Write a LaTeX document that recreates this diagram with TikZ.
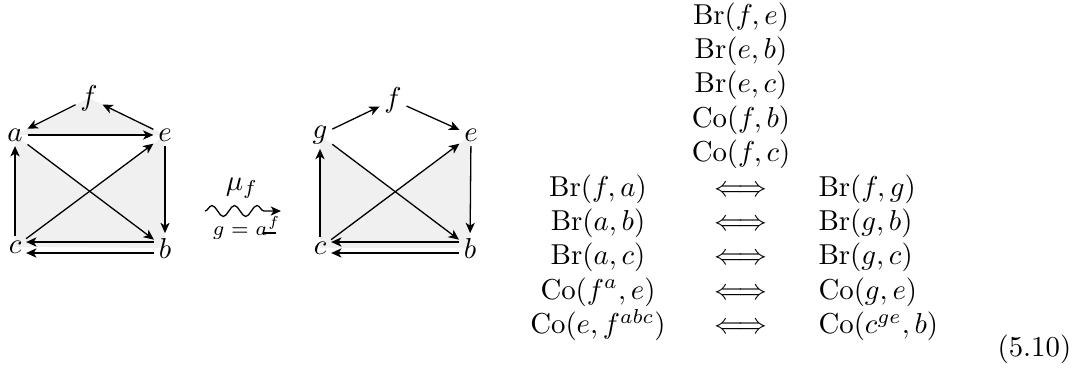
\documentclass[tikz,border=0pt]{standalone}
\usetikzlibrary{arrows.meta,decorations.pathmorphing,calc,backgrounds}
\begin{document}
\begin{tikzpicture}[x=0.3472pt,y=-0.3472pt,
  v/.style={inner sep=1.5pt},
  ar/.style={-{Stealth[length=3.6pt,width=3.2pt,inset=1pt]}, line width=0.45pt},
  sh/.style={fill=black!6, draw=none},
  lrow/.style={anchor=base, inner sep=0pt},
  rrow/.style={anchor=base west, inner sep=0pt}]
\useasboundingbox (0,0) rectangle (1075,369);
% ---------- left quiver ----------
\node[v] (la) at (15,135) {$a$};
\node[v] (le) at (165,135) {$e$};
\node[v] (lf) at (89,98) {$f$};
\node[v] (lc) at (15,247) {$c$};
\node[v] (lb) at (165,248) {$b$};
\begin{scope}[on background layer]
\fill[sh] (lf.center) -- (la.center) -- (le.center) -- cycle;
\fill[sh] (la.center) -- (intersection of la--lb and lc--le) -- (le.center) -- (lb.center) -- (lc.center) -- cycle;
\end{scope}
\draw[ar] (lf) -- (la);
\draw[ar] (le) -- (lf);
\draw[ar] (la) -- (le);
\draw[ar] (la) -- (lb);
\draw[ar] (lc) -- (le);
\draw[ar] (lc) -- (la);
\draw[ar] (le) -- (lb);
\draw[ar] ($(lb.west)+(0,-6)$) -- ($(lc.east)+(0,-5)$);
\draw[ar] ($(lb.west)+(0,5)$) -- ($(lc.east)+(0,6)$);
% ---------- mutation arrow ----------
\coordinate (s1) at (205,211);
\coordinate (s2) at (281,211);
\draw[ar, decorate, decoration={snake,amplitude=1.9pt,segment length=7.8pt,post length=2.5pt}] (s1) -- (s2);
\node (mu) at (242,188) {$\mu_f$};
\node[anchor=base west, inner sep=0pt] (gl) at (212,235) {\scriptsize $g=a^{f}$};
\draw[line width=0.7pt] (263,233) -- (276,233);
% ---------- right quiver ----------
\node[v] (rg) at (320,135) {$g$};
\node[v] (rf) at (393,100) {$f$};
\node[v] (re) at (471,135) {$e$};
\node[v] (rc) at (320,248) {$c$};
\node[v] (rb) at (470,248) {$b$};
\begin{scope}[on background layer]
\fill[sh] (rg.center) -- (intersection of rg--rb and rc--re) -- (re.center) -- (rb.center) -- (rc.center) -- cycle;
\end{scope}
\draw[ar] (rg) -- (rf);
\draw[ar] (rf) -- (re);
\draw[ar] (rg) -- (rb);
\draw[ar] (rc) -- (re);
\draw[ar] (rc) -- (rg);
\draw[ar] (re) -- (rb);
\draw[ar] ($(rb.west)+(0,-6)$) -- ($(rc.east)+(0,-6)$);
\draw[ar] ($(rb.west)+(0,5)$) -- ($(rc.east)+(0,5)$);
% ---------- relations ----------
\node[lrow] (m1) at (741,24) {$\mathrm{Br}(f,e)$};
\node[lrow] (m2) at (741,58.4) {$\mathrm{Br}(e,b)$};
\node[lrow] (m3) at (741,92.8) {$\mathrm{Br}(e,c)$};
\node[lrow] (m4) at (741,127.2) {$\mathrm{Co}(f,b)$};
\node[lrow] (m5) at (741,161.6) {$\mathrm{Co}(f,c)$};
\node[lrow] (l1) at (598,196) {$\mathrm{Br}(f,a)$};
\node[lrow] (l2) at (598,230.4) {$\mathrm{Br}(a,b)$};
\node[lrow] (l3) at (598,264.8) {$\mathrm{Br}(a,c)$};
\node[lrow] (l4) at (598,299.2) {$\mathrm{Co}(f^a,e)$};
\node[lrow] (l5) at (598,333.6) {$\mathrm{Co}(e,f^{abc})$};
\node[lrow] (i1) at (741,196) {$\Longleftrightarrow$};
\node[lrow] (i2) at (741,230.4) {$\Longleftrightarrow$};
\node[lrow] (i3) at (741,264.8) {$\Longleftrightarrow$};
\node[lrow] (i4) at (741,299.2) {$\Longleftrightarrow$};
\node[lrow] (i5) at (741,333.6) {$\Longleftrightarrow$};
\node[rrow] (r1) at (818,196) {$\mathrm{Br}(f,g)$};
\node[rrow] (r2) at (818,230.4) {$\mathrm{Br}(g,b)$};
\node[rrow] (r3) at (818,264.8) {$\mathrm{Br}(g,c)$};
\node[rrow] (r4) at (818,299.2) {$\mathrm{Co}(g,e)$};
\node[rrow] (r5) at (818,333.6) {$\mathrm{Co}(c^{ge},b)$};
\node[rrow] (eq) at (997,356) {(5.10)};
\end{tikzpicture}
\end{document}
